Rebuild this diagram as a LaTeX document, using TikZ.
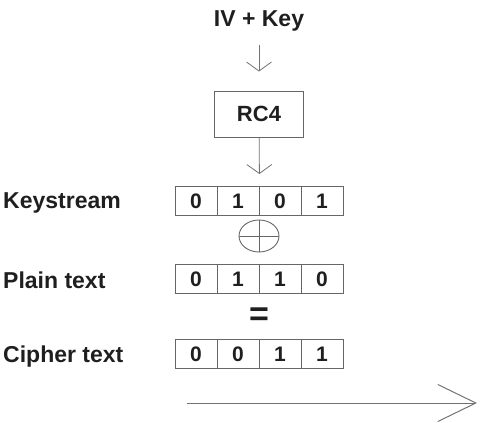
\documentclass[tikz,border=0pt]{standalone}
\usepackage{fontspec}
\setmainfont{Liberation Sans}
\usetikzlibrary{arrows.meta,shapes.geometric}
\begin{document}
\begin{tikzpicture}[x=1pt,y=-1pt,
  lbl/.style={font=\fontsize{23}{25}\selectfont\bfseries, text=black!88, inner sep=0pt},
  cell/.style={draw=black!60, line width=1pt, minimum width=42pt, minimum height=29pt, inner sep=0pt, font=\fontsize{21}{22}\selectfont\bfseries, text=black!88},
  rcbox/.style={draw=black!60, line width=1pt, minimum width=89pt, minimum height=46pt, inner sep=0pt, font=\fontsize{22}{24}\selectfont\bfseries, text=black!88},
  flow/.style={draw=black!55, line width=0.8pt, -{Straight Barb[length=9pt,width=25pt]}},
  bigflow/.style={draw=black!55, line width=1pt, -{Straight Barb[length=38pt,width=37pt]}},
  xorsym/.style={draw=black!60, line width=0.9pt, ellipse, minimum width=40pt, minimum height=32pt, inner sep=0pt}
]
\useasboundingbox (0,0) rectangle (480,423);

% top
\node[lbl, anchor=base] (iv) at (259,27) {IV + Key};
\node[rcbox] (rc4) at (259,114) {RC4};
\draw[flow, shorten <=13pt, shorten >=19pt] (iv) -- (rc4);

% rows
\node[lbl, anchor=base west] (lk) at (3,208) {Keystream};
\node[lbl, anchor=base west] (lp) at (3,288) {Plain text};
\node[lbl, anchor=base west] (lc) at (3,362) {Cipher text};

\node[cell] (k1) at (196,201) {0};
\node[cell] (k2) at (238,201) {1};
\node[cell] (k3) at (280,201) {0};
\node[cell] (k4) at (322,201) {1};

\node[cell] (p1) at (196,279) {0};
\node[cell] (p2) at (238,279) {1};
\node[cell] (p3) at (280,279) {1};
\node[cell] (p4) at (322,279) {0};

\node[cell] (c1) at (196,354) {0};
\node[cell] (c2) at (238,354) {0};
\node[cell] (c3) at (280,354) {1};
\node[cell] (c4) at (322,354) {1};

\draw[flow, shorten >=12pt] (rc4) -- (k2.north east);

% xor
\node[xorsym] (xor) at (259,236) {};
\draw[draw=black!60, line width=0.9pt] (xor.north) -- (xor.south) (xor.west) -- (xor.east);

% equals
\node[font=\fontsize{34}{34}\selectfont\bfseries, text=black!88, inner sep=0pt] (eq) at (259,317) {=};

% bottom arrow
\coordinate (a0) at (187,403);
\coordinate (a1) at (477,403);
\draw[bigflow] (a0) -- (a1);
\end{tikzpicture}
\end{document}
